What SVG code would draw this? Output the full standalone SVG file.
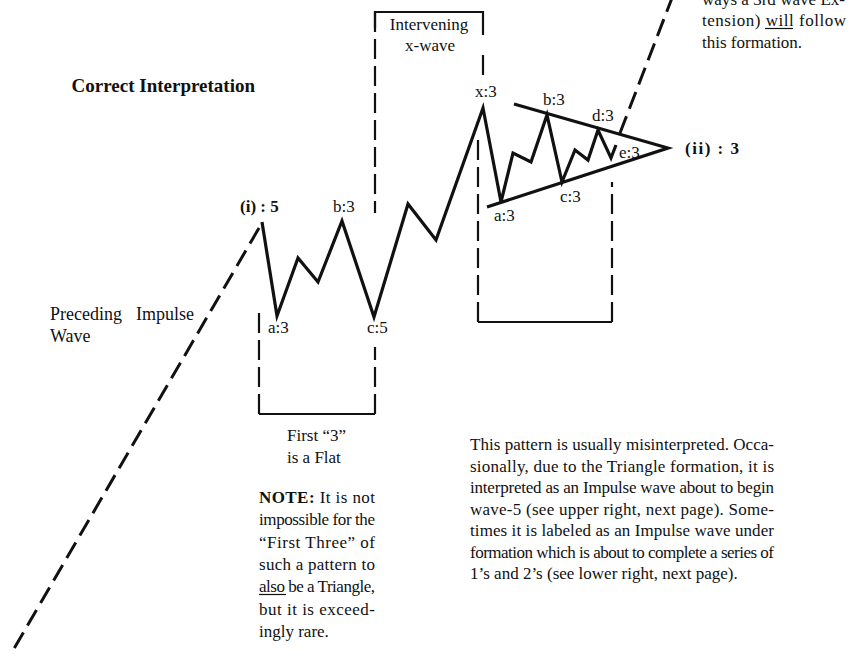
<svg xmlns="http://www.w3.org/2000/svg" width="854" height="656" viewBox="0 0 854 656">
<style>
text{font-family:"Liberation Serif","Times New Roman",serif;font-size:17px;fill:#111}
.b{font-weight:bold}
.t{font-size:19px;font-weight:bold}
.m{font-size:18px}
.wave{fill:none;stroke:#111;stroke-width:3.2;stroke-linejoin:miter}
.dash{fill:none;stroke:#111;stroke-width:3;stroke-dasharray:18 8}
.box{fill:none;stroke:#111;stroke-width:2.2;stroke-dasharray:20 7}
.solid{fill:none;stroke:#111;stroke-width:2.2}
.ul{stroke:#111;stroke-width:1.2}
</style>
<rect width="854" height="656" fill="#fff"/>
<g id="connectors">
  <path class="dash" d="M259,228 L12,652"/>
  <path class="dash" d="M620,133 L672,-2"/>
  <path id="wave" class="wave" d="M262,222 L277,316 L298,258 L318,282 L342,221 L374,317 L408,204 L436,240 L483,108 L501,202 L513,153 L531,162 L547,115 L562,182 L575,150 L588,160 L598,130 L611,158 L616,145"/>
  <path id="triangle-lines" class="wave" d="M514,104 L668,148 L487,207"/>
</g>
<g id="box-intervening">
  <path class="solid" d="M375,28 V12 H483 V35"/>
  <path class="box" d="M375,12 V213"/>
  <path class="solid" d="M483,55 V75"/>
  <text x="429" y="30" text-anchor="middle">Intervening</text>
  <text x="430" y="51" text-anchor="middle">x-wave</text>
</g>
<g id="box-flat">
  <path class="box" d="M259,414 V312"/>
  <path class="box" d="M375,414 V347"/>
  <path class="solid" d="M259,414 H375"/>
  <text x="287" y="441">First “3”</text>
  <text x="287" y="463">is a Flat</text>
</g>
<g id="box-triangle">
  <path class="box" d="M478,322 V138"/>
  <path class="box" d="M612,322 V182"/>
  <path class="solid" d="M478,322 H612"/>
</g>
<g id="labels">
  <text class="t" x="255" y="92" text-anchor="end">Correct Interpretation</text>
  <text class="b" x="240" y="212">(i) : 5</text>
  <text x="333" y="212">b:3</text>
  <text x="268" y="333">a:3</text>
  <text x="367" y="333">c:5</text>
  <text x="475" y="97">x:3</text>
  <text x="494" y="221">a:3</text>
  <text x="543" y="105">b:3</text>
  <text x="560" y="202">c:3</text>
  <text x="592" y="121">d:3</text>
  <text x="619" y="158">e:3</text>
  <text class="b" x="685" y="154" textLength="54" lengthAdjust="spacing">(ii) : 3</text>
  <text class="m" x="50" y="320">Preceding<tspan x="136">Impulse</tspan></text>
  <text class="m" x="50" y="342">Wave</text>
</g>
<g id="note-top-right">
  <text x="702" y="5" textLength="143" lengthAdjust="spacing">ways a 3rd wave Ex-</text>
  <text x="702" y="26" textLength="144" lengthAdjust="spacing">tension) will follow</text>
  <line class="ul" x1="765" y1="28.5" x2="793" y2="28.5"/>
  <text x="702" y="48">this formation.</text>
</g>
<g id="note-flat">
  <text x="259" y="503" textLength="116" lengthAdjust="spacing"><tspan class="b">NOTE:</tspan>  It is not</text>
  <text x="259" y="525" textLength="116" lengthAdjust="spacing">impossible for the</text>
  <text x="259" y="548" textLength="116" lengthAdjust="spacing">“First Three” of</text>
  <text x="259" y="570" textLength="116" lengthAdjust="spacing">such a pattern to</text>
  <text x="259" y="592" textLength="116" lengthAdjust="spacing">also be a Triangle,</text>
  <line class="ul" x1="259" y1="594.5" x2="286" y2="594.5"/>
  <text x="259" y="615" textLength="116" lengthAdjust="spacing">but it is exceed-</text>
  <text x="259" y="637">ingly rare.</text>
</g>
<g id="note-main">
  <text x="470" y="450" textLength="304" lengthAdjust="spacing">This pattern is usually misinterpreted. Occa-</text>
  <text x="470" y="472" textLength="304" lengthAdjust="spacing">sionally, due to the Triangle formation, it is</text>
  <text x="470" y="493" textLength="304" lengthAdjust="spacing">interpreted as an Impulse wave about to begin</text>
  <text x="470" y="515" textLength="304" lengthAdjust="spacing">wave-5 (see upper right, next page).  Some-</text>
  <text x="470" y="536" textLength="304" lengthAdjust="spacing">times it is labeled as an  Impulse wave under</text>
  <text x="470" y="558" textLength="304" lengthAdjust="spacing">formation which is about to complete a series of</text>
  <text x="470" y="579">1’s and 2’s (see lower right, next page).</text>
</g>
</svg>
